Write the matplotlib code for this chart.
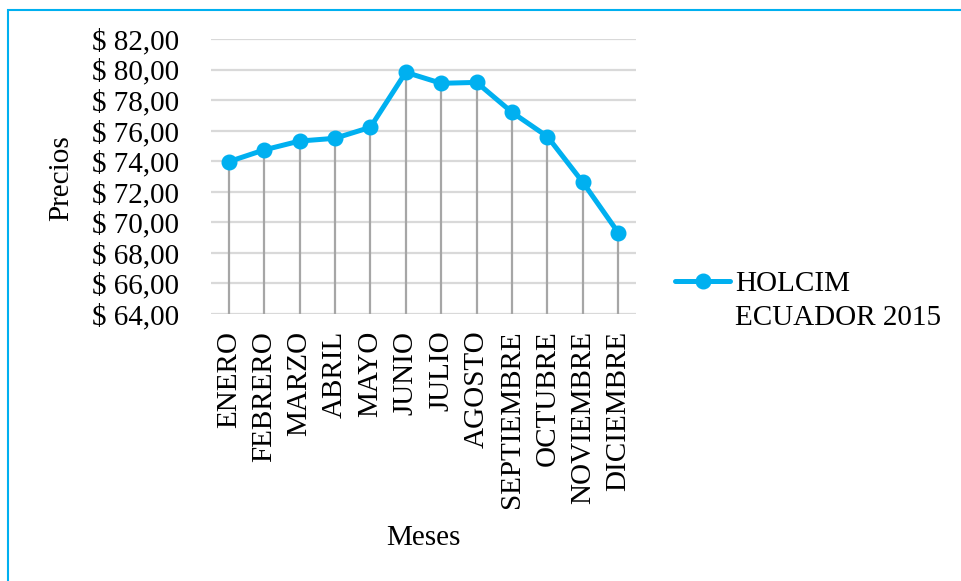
import matplotlib
matplotlib.use("Agg")
import matplotlib.pyplot as plt
from matplotlib.patches import Rectangle

meses = ["ENERO", "FEBRERO", "MARZO", "ABRIL", "MAYO", "JUNIO", "JULIO",
         "AGOSTO", "SEPTIEMBRE", "OCTUBRE", "NOVIEMBRE", "DICIEMBRE"]
precios = [73.97, 74.74, 75.32, 75.50, 76.22, 79.82, 79.10, 79.16,
           77.20, 75.61, 72.62, 69.32]
serie = "HOLCIM\nECUADOR 2015"
y_ticks = [64, 66, 68, 70, 72, 74, 76, 78, 80, 82]

plt.rcParams["font.family"] = ["Liberation Serif", "DejaVu Serif"]
FS = 21
azul = "#00b0f0"

fig = plt.figure(figsize=(9.61, 5.81), dpi=100)
ax = fig.add_axes([211 / 961, 1 - 314 / 581, 425 / 961, 275 / 581])

x = list(range(len(meses)))
ax.set_xlim(-0.5, len(meses) - 0.5)
ax.set_ylim(64, 82)

# Drop lines from each point down to the baseline
ax.vlines(x, 64, precios, colors="#a6a6a6", linewidth=1.6, zorder=2)
ax.plot(x, precios, color=azul, linewidth=3.6, marker="o", markersize=10.5,
        label=serie, zorder=3, solid_capstyle="round")

ax.set_yticks(y_ticks)
ax.set_yticklabels([f"$ {v:.2f}".replace(".", ",") for v in y_ticks], fontsize=FS)
ax.set_xticks(x)
ax.set_xticklabels(meses, rotation=90, fontsize=FS, va="top", ha="center")
ax.tick_params(axis="y", length=0, pad=23)
ax.tick_params(axis="x", length=0, pad=12)
ax.yaxis.grid(True, color="#d9d9d9", linewidth=1.6, zorder=0)
ax.set_axisbelow(True)
for s in ax.spines.values():
    s.set_visible(False)

fig.text(61 / 961, 1 - 178 / 581, "Precios", rotation=90, fontsize=FS,
         ha="center", va="center")
fig.text(423 / 961, 1 - 538 / 581, "Meses", fontsize=FS, ha="center", va="center")

leg = fig.legend(loc="upper left", bbox_to_anchor=(675 / 961, 1 - 271 / 581),
                 frameon=False, fontsize=FS, handlelength=1.9, handletextpad=0.15,
                 borderaxespad=0, borderpad=0)
for t in leg.get_texts():
    t.set_linespacing(1.4)
# Put the legend marker level with the first line of the label
for col in leg._legend_handle_box.get_children():
    for row in col.get_children():
        row.align = "top"

fig.patches.append(Rectangle((8 / 961, -0.1), 1.2, 1.1 - 10 / 581,
                             transform=fig.transFigure, fill=False,
                             edgecolor=azul, linewidth=1.5))

fig.savefig("out.png", dpi=100)
